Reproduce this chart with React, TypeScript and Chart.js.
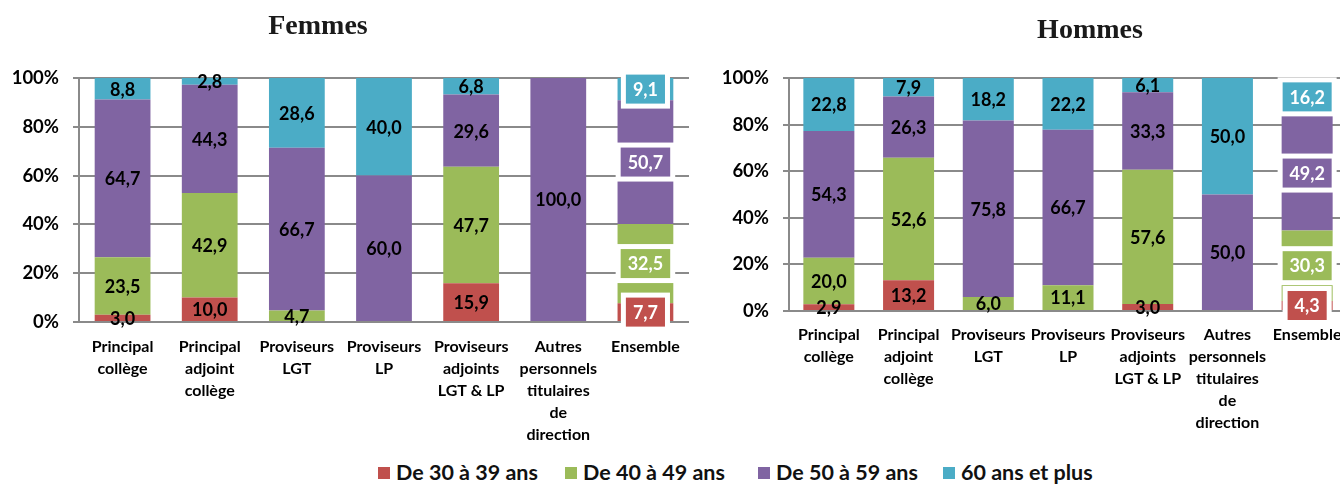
import React, { useEffect, useRef } from 'react';
import { Chart, registerables } from 'chart.js';

Chart.register(...registerables);

const categories = [
  ['Principal', 'collège'],
  ['Principal', 'adjoint', 'collège'],
  ['Proviseurs', 'LGT'],
  ['Proviseurs', 'LP'],
  ['Proviseurs', 'adjoints', 'LGT & LP'],
  ['Autres', 'personnels', 'titulaires', 'de', 'direction'],
  ['Ensemble'],
];
const seriesNames = ['De 30 à 39 ans', 'De 40 à 49 ans', 'De 50 à 59 ans', '60 ans et plus'];
const seriesColors = ['#C0504D', '#9BBB59', '#8064A2', '#4BACC6'];

const femmes30 = [3.0, 10.0, 0, 0, 15.9, 0, 7.7];
const femmes40 = [23.5, 42.9, 4.7, 0, 47.7, 0, 32.5];
const femmes50 = [64.7, 44.3, 66.7, 60.0, 29.6, 100.0, 50.7];
const femmes60 = [8.8, 2.8, 28.6, 40.0, 6.8, 0, 9.1];

const hommes30 = [2.9, 13.2, 0, 0, 3.0, 0, 4.3];
const hommes40 = [20.0, 52.6, 6.0, 11.1, 57.6, 0, 30.3];
const hommes50 = [54.3, 26.3, 75.8, 66.7, 33.3, 50.0, 49.2];
const hommes60 = [22.8, 7.9, 18.2, 22.2, 6.1, 50.0, 16.2];

const yTicks = [0, 20, 40, 60, 80, 100];

const FONT = 'Lato';
const GRID = '#8a8a8a';

const labelPlugin = {
  id: 'segLabels',
  afterDatasetsDraw(chart: any) {
    const ctx = chart.ctx;
    const n = chart.data.labels.length;
    chart.data.datasets.forEach((ds: any, di: number) => {
      const meta = chart.getDatasetMeta(di);
      meta.data.forEach((bar: any, i: number) => {
        const v = ds.data[i];
        if (!v) return;
        const txt = v.toFixed(1).replace('.', ',');
        const cx = bar.x;
        const cy = (bar.y + bar.base) / 2;
        ctx.save();
        ctx.font = `bold 18px ${FONT}`;
        ctx.textAlign = 'center';
        ctx.textBaseline = 'middle';
        if (i === n - 1) {
          const tw = ctx.measureText(txt).width;
          const w = Math.min(tw + 14, bar.width - 2);
          const h = 29;
          ctx.fillStyle = '#ffffff';
          ctx.fillRect(cx - w / 2 - 5, cy - h / 2 - 5, w + 10, h + 10);
          ctx.fillStyle = ds.backgroundColor;
          ctx.fillRect(cx - w / 2, cy - h / 2, w, h);
          ctx.fillStyle = '#ffffff';
        } else {
          ctx.fillStyle = '#000000';
        }
        ctx.fillText(txt, cx, cy + 1);
        ctx.restore();
      });
    });
  },
};

function makeConfig(series: number[][], yAxisWidth: number, xAxisHeight: number, padRight: number, xPad: number): any {
  return {
    type: 'bar',
    data: {
      labels: categories,
      datasets: series.map((d, k) => ({
        label: seriesNames[k],
        data: d,
        backgroundColor: seriesColors[k],
        borderWidth: 0,
        barPercentage: 0.64,
        categoryPercentage: 1.0,
      })),
    },
    options: {
      responsive: false,
      animation: false,
      devicePixelRatio: 1,
      layout: { padding: { top: 78, right: padRight, left: 0, bottom: 0 } },
      plugins: {
        legend: { display: false },
        title: { display: false },
        tooltip: { enabled: false },
      },
      scales: {
        x: {
          stacked: true,
          grid: { display: false, drawTicks: false, tickLength: 0 },
          border: { display: false },
          ticks: {
            font: { family: FONT, weight: 'bold', size: 16, lineHeight: 1.375 },
            color: '#000',
            padding: xPad,
            maxRotation: 0,
            minRotation: 0,
            autoSkip: false,
          },
          afterFit: (s: any) => {
            s.height = xAxisHeight;
          },
        },
        y: {
          stacked: true,
          min: 0,
          max: 100,
          afterBuildTicks: (s: any) => {
            s.ticks = yTicks.map((v) => ({ value: v }));
          },
          ticks: {
            callback: (v: any) => v + '%',
            font: { family: FONT, weight: 'bold', size: 18.5 },
            color: '#000',
            padding: 14,
          },
          grid: { color: GRID, lineWidth: 2, tickLength: 6, drawTicks: true },
          border: { display: true, color: GRID, width: 2 },
          afterFit: (s: any) => {
            s.width = yAxisWidth;
          },
        },
      },
    },
    plugins: [labelPlugin],
  };
}

function BarChart(props: { series: number[][]; width: number; height: number; left: number; yAxisWidth: number; xAxisHeight: number; padRight: number; xPad: number }) {
  const ref = useRef<HTMLCanvasElement>(null);
  useEffect(() => {
    if (!ref.current) return;
    const chart = new Chart(ref.current, makeConfig(props.series, props.yAxisWidth, props.xAxisHeight, props.padRight, props.xPad));
    return () => chart.destroy();
  }, []);
  return (
    <canvas
      ref={ref}
      width={props.width}
      height={props.height}
      style={{ position: 'absolute', left: props.left, top: 0, width: props.width, height: props.height }}
    />
  );
}

const legendX = [378, 565, 758, 943];

export default function App() {
  return (
    <div
      style={{
        position: 'fixed',
        left: 0,
        top: 0,
        width: 1340,
        height: 484,
        overflow: 'hidden',
        background: '#ffffff',
      }}
    >
      <BarChart series={[femmes30, femmes40, femmes50, femmes60]} width={700} height={450} left={0} yAxisWidth={79} xAxisHeight={128} padRight={11} xPad={14} />
      <BarChart series={[hommes30, hommes40, hommes50, hommes60]} width={660} height={450} left={700} yAxisWidth={89} xAxisHeight={139} padRight={13} xPad={13} />
      <div
        style={{
          position: 'absolute',
          left: 218,
          top: 11,
          width: 200,
          textAlign: 'center',
          font: 'bold 28px "Liberation Serif"',
          lineHeight: '28px',
          color: '#1a1a1a',
        }}
      >
        Femmes
      </div>
      <div
        style={{
          position: 'absolute',
          left: 990,
          top: 15,
          width: 200,
          textAlign: 'center',
          font: 'bold 28px "Liberation Serif"',
          lineHeight: '28px',
          color: '#1a1a1a',
        }}
      >
        Hommes
      </div>
      {seriesNames.map((name, k) => (
        <div key={name} style={{ position: 'absolute', left: legendX[k], top: 462, height: 22, whiteSpace: 'nowrap' }}>
          <span
            style={{
              position: 'absolute',
              left: 0,
              top: 5,
              width: 12,
              height: 12,
              background: seriesColors[k],
            }}
          />
          <span
            style={{
              position: 'absolute',
              left: 18,
              top: -1,
              font: `bold 21.5px ${FONT}`,
              lineHeight: '22px',
              color: '#111',
            }}
          >
            {name}
          </span>
        </div>
      ))}
    </div>
  );
}
